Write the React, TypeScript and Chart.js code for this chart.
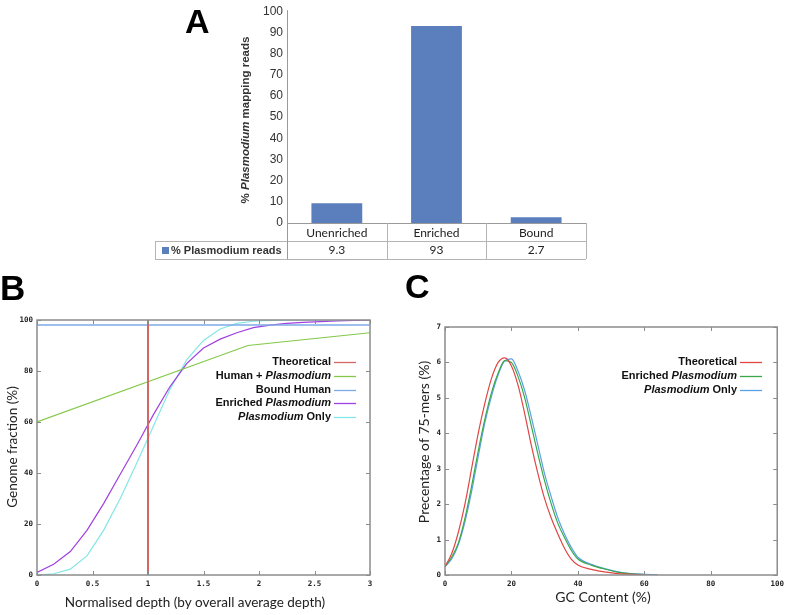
import React, { useEffect, useRef } from 'react';
import { Chart, registerables } from 'chart.js';

Chart.register(...registerables);

// ---------- Panel A data ----------
const readCategories = ['Unenriched', 'Enriched', 'Bound'];
const plasmodiumReadPct = [9.3, 93, 2.7];
const readSeriesLabel = '% Plasmodium reads';
const readAxisTitle = '% Plasmodium mapping reads';

// ---------- Panel B data ----------
const depthSeriesLabels = ['Theoretical', 'Human + Plasmodium', 'Bound Human', 'Enriched Plasmodium', 'Plasmodium Only'];
const theoreticalDepth = [1, 1];
const theoreticalFraction = [0, 100];
const humanPlasmoDepth = [0, 1.9, 3];
const humanPlasmoFraction = [60, 90, 95];
const boundHumanDepth = [0, 3];
const boundHumanFraction = [98, 98];
const sampledDepth = [0, 0.15, 0.3, 0.45, 0.6, 0.75, 0.9, 1.05, 1.2, 1.35, 1.5, 1.65, 1.8, 1.95, 2.1, 2.25, 2.4, 2.55, 2.7, 2.85, 3.0];
const enrichedFraction = [1, 4.2, 9.2, 17.5, 28, 39.5, 51, 63, 74, 83, 89, 92.5, 95, 97, 98, 98.7, 99.1, 99.4, 99.6, 99.8, 100];
const plasmoOnlyFraction = [0, 0.5, 2.3, 7.5, 17.5, 30, 44, 58.5, 73, 84.5, 92, 96.5, 98.7, 99.5, 99.8, 100, 100, 100, 100, 100, 100];
const depthAxisTitle = 'Normalised depth (by overall average depth)';
const fractionAxisTitle = 'Genome fraction (%)';

// ---------- Panel C data ----------
const gcSeriesLabels = ['Theoretical', 'Enriched Plasmodium', 'Plasmodium Only'];
const gcContent = [0, 2, 4, 6, 8, 10, 12, 14, 16, 18, 20, 22, 24, 26, 28, 30, 32, 34, 36, 38, 40, 44, 48, 52, 56, 60, 64];
const gcTheoretical = [0.24, 0.6, 1.2, 2.0, 3.0, 4.0, 4.85, 5.55, 6.0, 6.13, 5.9, 5.35, 4.55, 3.65, 2.85, 2.15, 1.6, 1.15, 0.75, 0.45, 0.28, 0.16, 0.09, 0.04, 0.02, 0.0, null];
const gcEnriched = [0.24, 0.5, 0.9, 1.6, 2.5, 3.5, 4.4, 5.15, 5.7, 6.05, 6.0, 5.6, 5.0, 4.2, 3.4, 2.65, 2.0, 1.45, 1.05, 0.7, 0.45, 0.28, 0.17, 0.08, 0.03, 0.01, null];
const gcPlasmoOnly = [0.24, 0.45, 0.85, 1.5, 2.35, 3.35, 4.3, 5.05, 5.65, 6.05, 6.1, 5.75, 5.2, 4.45, 3.65, 2.85, 2.2, 1.6, 1.15, 0.78, 0.5, 0.3, 0.18, 0.09, 0.04, 0.02, 0.01];
const gcAxisTitle = 'GC Content (%)';
const kmerAxisTitle = 'Precentage of 75-mers (%)';

// ---------- helpers ----------
const W = 789;
const H = 615;
const SANS = '"Liberation Sans", Arial, Helvetica, sans-serif';
const CAL = 'Lato, "Open Sans", sans-serif';
const MONO = '"DejaVu Sans Mono", monospace';

function pts(xs: number[], ys: (number | null)[]) {
  const out: { x: number; y: number }[] = [];
  xs.forEach((x, i) => {
    const y = ys[i];
    if (y !== null && y !== undefined) out.push({ x, y });
  });
  return out;
}

function drawRich(
  ctx: CanvasRenderingContext2D,
  text: string,
  x: number,
  y: number,
  align: 'left' | 'right' | 'center',
  size: number,
  weight: string,
  family: string,
  color: string,
  italicWord: boolean
) {
  const parts = italicWord ? text.split(/(Plasmodium)/).filter((p) => p.length > 0) : [text];
  const fontFor = (p: string) => `${italicWord && p === 'Plasmodium' ? 'italic ' : ''}${weight} ${size}px ${family}`;
  const widths = parts.map((p) => {
    ctx.font = fontFor(p);
    return ctx.measureText(p).width;
  });
  const total = widths.reduce((a, b) => a + b, 0);
  let start = align === 'left' ? x : align === 'right' ? x - total : x - total / 2;
  ctx.textAlign = 'left';
  ctx.textBaseline = 'middle';
  ctx.fillStyle = color;
  parts.forEach((p, i) => {
    ctx.font = fontFor(p);
    ctx.fillText(p, start, y);
    start += widths[i];
  });
}

type TitleSpec = { text: string; x: number; y: number; rotate?: boolean; size: number; weight: string; family: string; color: string; italic: boolean };

const titlesPlugin = {
  id: 'panelTitles',
  afterDraw(chart: any, _args: any, opts: any) {
    const ctx = chart.ctx as CanvasRenderingContext2D;
    (opts.items || []).forEach((t: TitleSpec) => {
      ctx.save();
      ctx.translate(t.x, t.y);
      if (t.rotate) ctx.rotate(-Math.PI / 2);
      drawRich(ctx, t.text, 0, 0, 'center', t.size, t.weight, t.family, t.color, t.italic);
      ctx.restore();
    });
  },
};

const boxPlugin = {
  id: 'gnuBox',
  afterDatasetsDraw(chart: any, _args: any, opts: any) {
    if (!opts || !opts.enabled) return;
    const ctx = chart.ctx as CanvasRenderingContext2D;
    const { left, right, top, bottom } = chart.chartArea;
    ctx.save();
    ctx.strokeStyle = opts.color || '#8c8c8c';
    ctx.lineWidth = 1.5;
    ctx.strokeRect(left, top, right - left, bottom - top);
    ctx.lineWidth = 1;
    const tl = 4;
    const xs = chart.scales.x;
    const ys = chart.scales.y;
    xs.ticks.forEach((t: any) => {
      const px = Math.round(xs.getPixelForValue(t.value)) + 0.5;
      ctx.beginPath();
      ctx.moveTo(px, bottom);
      ctx.lineTo(px, bottom - tl);
      ctx.moveTo(px, top);
      ctx.lineTo(px, top + tl);
      ctx.stroke();
    });
    ys.ticks.forEach((t: any) => {
      const py = Math.round(ys.getPixelForValue(t.value)) + 0.5;
      ctx.beginPath();
      ctx.moveTo(left, py);
      ctx.lineTo(left + tl, py);
      ctx.moveTo(right, py);
      ctx.lineTo(right - tl, py);
      ctx.stroke();
    });
    ctx.restore();
  },
};

const legendPlugin = {
  id: 'richLegend',
  afterDraw(chart: any, _args: any, opts: any) {
    if (!opts || !opts.enabled) return;
    const ctx = chart.ctx as CanvasRenderingContext2D;
    chart.data.datasets.forEach((ds: any, i: number) => {
      const y = opts.top + i * opts.step;
      ctx.save();
      drawRich(ctx, ds.label, opts.right, y, 'right', 11, 'bold', SANS, '#111', true);
      ctx.strokeStyle = ds.borderColor;
      ctx.lineWidth = 1.3;
      ctx.beginPath();
      ctx.moveTo(opts.right + 3, Math.round(y) + 0.5);
      ctx.lineTo(opts.right + 25, Math.round(y) + 0.5);
      ctx.stroke();
      ctx.restore();
    });
  },
};

const tablePlugin = {
  id: 'dataTable',
  afterDraw(chart: any) {
    const ctx = chart.ctx as CanvasRenderingContext2D;
    const ca = chart.chartArea;
    const xs = chart.scales.x;
    const n = readCategories.length;
    const colW = (ca.right - ca.left) / n;
    const r1 = ca.bottom;
    const r2 = ca.bottom + 18;
    const r3 = ca.bottom + 36;
    const tableLeft = 155;
    const line = (x1: number, y1: number, x2: number, y2: number, c: string) => {
      ctx.strokeStyle = c;
      ctx.lineWidth = 1;
      ctx.beginPath();
      ctx.moveTo(x1, y1);
      ctx.lineTo(x2, y2);
      ctx.stroke();
    };
    ctx.save();
    const lc = '#b4b4b4';
    line(ca.left, Math.round(r1) + 0.5, ca.right, Math.round(r1) + 0.5, '#9a9a9a');
    line(tableLeft, r2 + 0.5, ca.right, r2 + 0.5, lc);
    line(tableLeft, r3 + 0.5, ca.right, r3 + 0.5, lc);
    line(tableLeft + 0.5, r2, tableLeft + 0.5, r3, lc);
    for (let i = 1; i <= n; i++) {
      const x = Math.round(ca.left + i * colW) + 0.5;
      line(x, r1, x, r3, lc);
    }
    line(Math.round(ca.left) + 0.5, ca.top - 1, Math.round(ca.left) + 0.5, r3, '#9a9a9a');
    // values row
    ctx.font = `12px ${CAL}`;
    ctx.fillStyle = '#222';
    ctx.textAlign = 'center';
    ctx.textBaseline = 'middle';
    plasmodiumReadPct.forEach((v, i) => {
      ctx.fillText(String(v), xs.getPixelForValue(i), (r2 + r3) / 2 + 0.5);
    });
    // legend cell
    ctx.fillStyle = chart.data.datasets[0].backgroundColor;
    ctx.fillRect(162, (r2 + r3) / 2 - 3, 7, 7);
    drawRich(ctx, chart.data.datasets[0].label, 171, (r2 + r3) / 2 + 0.5, 'left', 11, 'bold', SANS, '#333', false);
    ctx.restore();
  },
};

function ChartCanvas({ make }: { make: (c: HTMLCanvasElement) => Chart }) {
  const ref = useRef<HTMLCanvasElement | null>(null);
  useEffect(() => {
    if (!ref.current) return;
    const ch = make(ref.current);
    return () => ch.destroy();
  }, []);
  return (
    <canvas
      ref={ref}
      width={W}
      height={H}
      style={{ position: 'absolute', left: 0, top: 0, width: W, height: H, pointerEvents: 'none' }}
    />
  );
}

const monoTick = { family: MONO, size: 7.5, weight: 'bold' as const };
const plainNum = (v: any) => String(Number(v));

function makeA(c: HTMLCanvasElement) {
  return new Chart(c, {
    type: 'bar',
    data: {
      labels: readCategories,
      datasets: [
        {
          label: readSeriesLabel,
          data: plasmodiumReadPct,
          backgroundColor: '#5b7fbd',
          barPercentage: 0.51,
          categoryPercentage: 1,
        },
      ],
    },
    options: {
      responsive: false,
      animation: false,
      events: [],
      layout: { padding: { left: 0, top: 9, right: W - 586, bottom: H - 223 - 40 } },
      scales: {
        x: {
          grid: { display: false, drawTicks: false },
          border: { display: false },
          ticks: { font: { family: CAL, size: 12 }, color: '#222', padding: 3, maxRotation: 0 },
          afterFit: (s: any) => {
            s.height = 40;
          },
        },
        y: {
          min: 0,
          max: 100,
          grid: { display: false, drawTicks: false },
          border: { display: false },
          ticks: { stepSize: 10, font: { family: SANS, size: 12 }, color: '#333', padding: 4 },
          afterFit: (s: any) => {
            s.width = 287;
          },
        },
      },
      plugins: {
        legend: { display: false },
        tooltip: { enabled: false },
        panelTitles: {
          items: [{ text: readAxisTitle, x: 246, y: 120, rotate: true, size: 11.5, weight: 'bold', family: SANS, color: '#333', italic: true }],
        },
      } as any,
    },
    plugins: [tablePlugin, titlesPlugin],
  });
}

function lineDs(label: string, data: { x: number; y: number }[], color: string, width: number) {
  return { label, data, borderColor: color, backgroundColor: color, borderWidth: width, pointRadius: 0, showLine: true, tension: 0, fill: false };
}

function makeB(c: HTMLCanvasElement) {
  return new Chart(c, {
    type: 'scatter',
    data: {
      datasets: [
        lineDs(depthSeriesLabels[0], pts(theoreticalDepth, theoreticalFraction), '#d46666', 2),
        lineDs(depthSeriesLabels[1], pts(humanPlasmoDepth, humanPlasmoFraction), '#84c84a', 1.2),
        lineDs(depthSeriesLabels[2], pts(boundHumanDepth, boundHumanFraction), '#7eaae8', 1.5),
        lineDs(depthSeriesLabels[3], pts(sampledDepth, enrichedFraction), '#a040e0', 1.2),
        lineDs(depthSeriesLabels[4], pts(sampledDepth, plasmoOnlyFraction), '#84e6e6', 1.2),
      ] as any,
    },
    options: {
      responsive: false,
      animation: false,
      events: [],
      layout: { padding: { left: 7, top: 320, right: W - 370, bottom: 0 } },
      scales: {
        x: {
          type: 'linear',
          min: 0,
          max: 3,
          grid: { display: false, drawTicks: false },
          border: { display: false },
          ticks: { stepSize: 0.5, font: monoTick, color: '#222', padding: 5, maxRotation: 0, callback: plainNum },
          afterFit: (s: any) => {
            s.height = 40;
          },
        },
        y: {
          min: 0,
          max: 100,
          grid: { display: false, drawTicks: false },
          border: { display: false },
          ticks: { stepSize: 20, font: monoTick, color: '#222', padding: 4, callback: plainNum },
          afterFit: (s: any) => {
            s.width = 30;
          },
        },
      },
      plugins: {
        legend: { display: false },
        tooltip: { enabled: false },
        gnuBox: { enabled: true },
        richLegend: { enabled: true, right: 331, top: 362, step: 13.75 },
        panelTitles: {
          items: [
            { text: depthAxisTitle, x: 195, y: 603, size: 13.5, weight: 'normal', family: CAL, color: '#222', italic: false },
            { text: fractionAxisTitle, x: 13, y: 447, rotate: true, size: 13.5, weight: 'normal', family: CAL, color: '#222', italic: false },
          ],
        },
      } as any,
    },
    plugins: [boxPlugin, legendPlugin, titlesPlugin],
  });
}

function makeC(c: HTMLCanvasElement) {
  return new Chart(c, {
    type: 'scatter',
    data: {
      datasets: [
        { ...lineDs(gcSeriesLabels[0], pts(gcContent, gcTheoretical), '#e04646', 1.2), cubicInterpolationMode: 'monotone' },
        { ...lineDs(gcSeriesLabels[1], pts(gcContent, gcEnriched), '#3aa84a', 1.2), cubicInterpolationMode: 'monotone' },
        { ...lineDs(gcSeriesLabels[2], pts(gcContent, gcPlasmoOnly), '#5aa0e8', 1.2), cubicInterpolationMode: 'monotone' },
      ] as any,
    },
    options: {
      responsive: false,
      animation: false,
      events: [],
      layout: { padding: { left: 415, top: 327, right: W - 778, bottom: 0 } },
      scales: {
        x: {
          type: 'linear',
          min: 0,
          max: 100,
          grid: { display: false, drawTicks: false },
          border: { display: false },
          ticks: { stepSize: 20, font: monoTick, color: '#222', padding: 5, maxRotation: 0, callback: plainNum },
          afterFit: (s: any) => {
            s.height = 40;
          },
        },
        y: {
          min: 0,
          max: 7,
          grid: { display: false, drawTicks: false },
          border: { display: false },
          ticks: { stepSize: 1, font: monoTick, color: '#222', padding: 4, callback: plainNum },
          afterFit: (s: any) => {
            s.width = 30;
          },
        },
      },
      plugins: {
        legend: { display: false },
        tooltip: { enabled: false },
        gnuBox: { enabled: true },
        richLegend: { enabled: true, right: 737, top: 362, step: 14 },
        panelTitles: {
          items: [
            { text: gcAxisTitle, x: 603, y: 597, size: 14, weight: 'normal', family: CAL, color: '#222', italic: false },
            { text: kmerAxisTitle, x: 424, y: 442, rotate: true, size: 14, weight: 'normal', family: CAL, color: '#222', italic: false },
          ],
        },
      } as any,
    },
    plugins: [boxPlugin, legendPlugin, titlesPlugin],
  });
}

const letterStyle: React.CSSProperties = {
  position: 'absolute',
  fontFamily: SANS,
  fontWeight: 'bold',
  fontSize: 34,
  lineHeight: 1,
  color: '#000',
};

export default function App() {
  return (
    <div style={{ position: 'fixed', left: 0, top: 0, width: W, height: H, background: '#fff', overflow: 'hidden' }}>
      <ChartCanvas make={makeA} />
      <ChartCanvas make={makeB} />
      <ChartCanvas make={makeC} />
      <div style={{ ...letterStyle, left: 185, top: 4 }}>A</div>
      <div style={{ ...letterStyle, left: 0, top: 270, fontSize: 35 }}>B</div>
      <div style={{ ...letterStyle, left: 405, top: 269 }}>C</div>
    </div>
  );
}
